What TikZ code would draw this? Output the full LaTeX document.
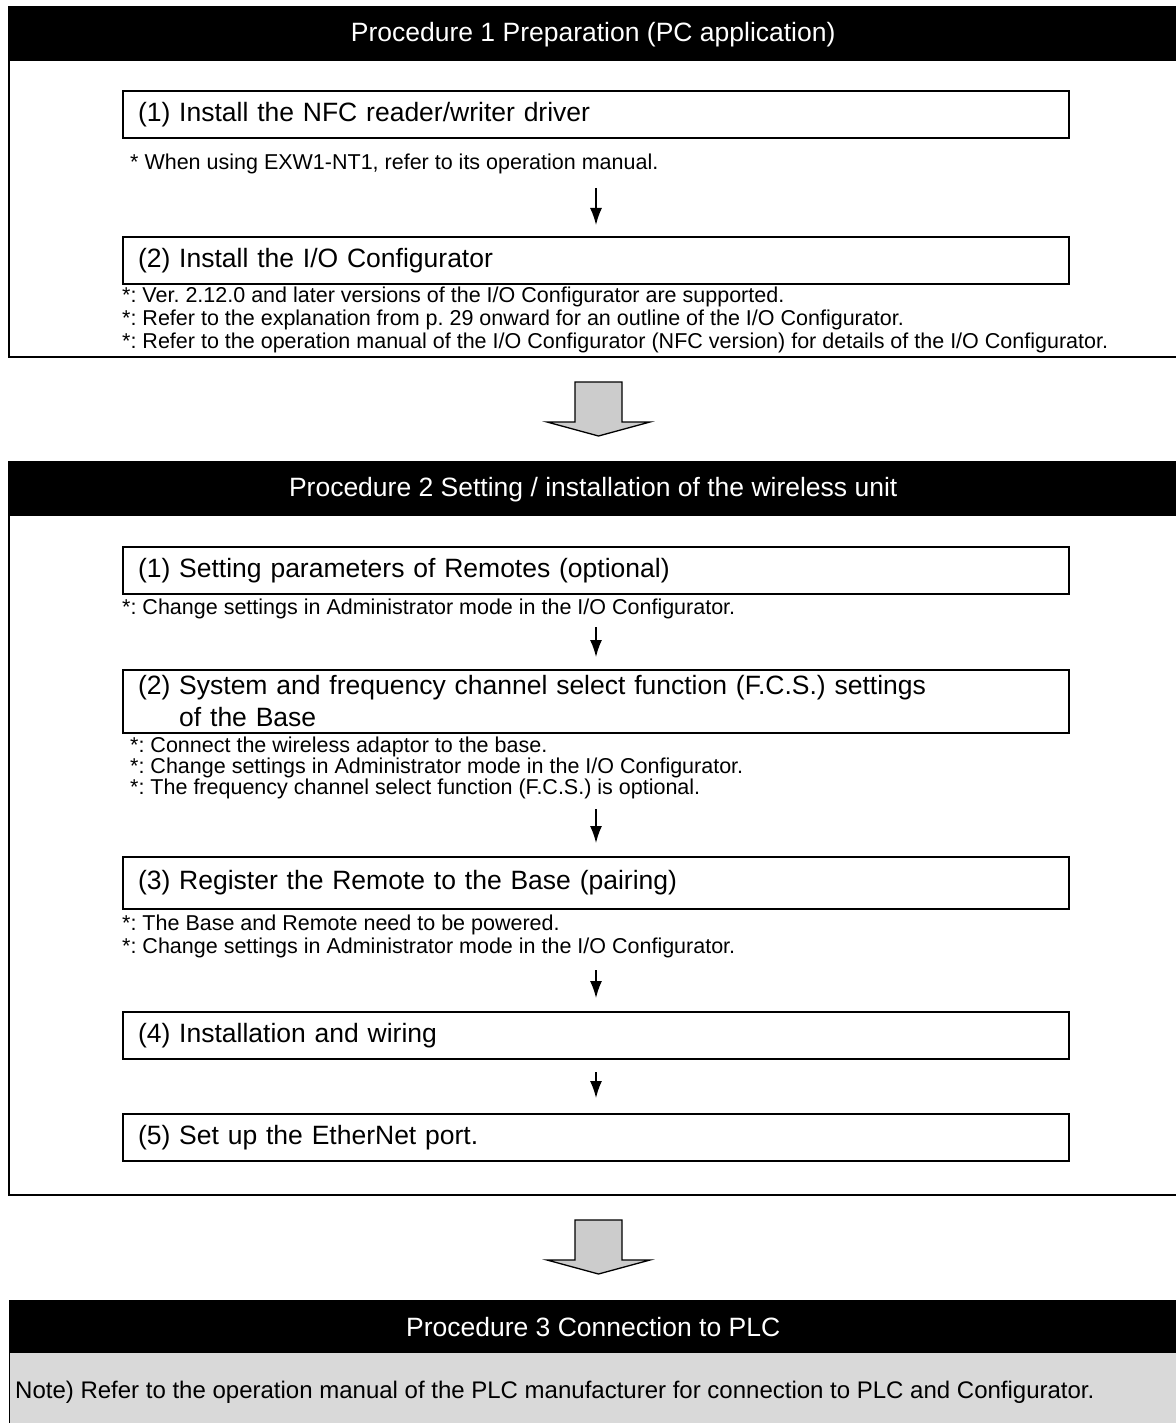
\documentclass[tikz,border=0pt]{standalone}
\usepackage{fontspec}
\setmainfont{Liberation Sans}
\usetikzlibrary{arrows,arrows.meta,positioning}
\tikzset{>={Latex[width=12pt,length=17pt]},
	panelframe/.style={draw=black, line width=2pt},
	panelhead/.style={fill=black, text=white, anchor=north west, inner sep=0pt,
		minimum width=1168pt, minimum height=54pt,
		font=\fontsize{26.5}{30}\selectfont},
	stepbox/.style={draw=black, line width=2pt, anchor=north west,
		text width=916pt, inner xsep=15pt, inner ysep=0pt,
		minimum height=47pt, align=left,
		font=\fontsize{26.5}{32}\selectfont},
	steparrow/.style={->, line width=1.5pt},
	bigarrow/.style={draw=black, line width=1.3pt, fill=black!20}}
\tikzstyle{notetext}=[anchor=base west, inner sep=0pt,
font=\fontsize{21.5}{23}\selectfont]

\begin{document}
\frenchspacing
\begin{tikzpicture}[x=1pt,y=-1pt]
	\useasboundingbox (0,0) rectangle (1175,1423);
	% Procedure 1
	\draw[panelframe] (9,7) rectangle (1177,357);
	\node[panelhead] (head1) at (9,7) {Procedure 1 Preparation (PC application)};
	\node[stepbox] (p1s1) at (122,90) {(1) Install the NFC reader/writer driver};
	\node[notetext] (p1n1) at (130,170) {* When using EXW1-NT1, refer to its operation manual.};
	\node[stepbox] (p1s2) at (122,236) {(2) Install the I/O Configurator};
	\node[notetext] (p1n2) at (122,302) {*: Ver. 2.12.0 and later versions of the I/O Configurator are supported.};
	\node[notetext] (p1n3) at (122,325) {*: Refer to the explanation from p. 29 onward for an outline of the I/O Configurator.};
	\node[notetext] (p1n4) at (122,348) {*: Refer to the operation manual of the I/O Configurator (NFC version) for details of the I/O Configurator.};
	\draw[steparrow, shorten <=49pt, shorten >=11pt] (p1s1) -- (p1s2);
	
	% Procedure 2
	\draw[panelframe] (9,462) rectangle (1177,1195);
	\node[panelhead] (head2) at (9,462) {Procedure 2 Setting / installation of the wireless unit};
	\node[stepbox] (p2s1) at (122,546) {(1) Setting parameters of Remotes (optional)};
	\node[notetext] (p2n1) at (122,614) {*: Change settings in Administrator mode in the I/O Configurator.};
	\node[stepbox, minimum height=63pt] (p2s2) at (122,669)
	{(2) System and frequency channel select function (F.C.S.) settings\\
		\hphantom{(2)~}of the Base};
	\node[notetext] (p2n2) at (130,752) {*: Connect the wireless adaptor to the base.};
	\node[notetext] (p2n3) at (130,773) {*: Change settings in Administrator mode in the I/O Configurator.};
	\node[notetext] (p2n4) at (130,794) {*: The frequency channel select function (F.C.S.) is optional.};
	\node[stepbox, minimum height=52pt] (p2s3) at (122,856) {(3) Register the Remote to the Base (pairing)};
	\node[notetext] (p2n5) at (122,930) {*: The Base and Remote need to be powered.};
	\node[notetext] (p2n6) at (122,953) {*: Change settings in Administrator mode in the I/O Configurator.};
	\node[stepbox] (p2s4) at (122,1011) {(4) Installation and wiring};
	\node[stepbox] (p2s5) at (122,1113) {(5) Set up the EtherNet port.};
	\draw[steparrow, shorten <=32pt, shorten >=12pt] (p2s1) -- (p2s2);
	\draw[steparrow, shorten <=75pt, shorten >=13pt] (p2s2) -- (p2s3);
	\draw[steparrow, shorten <=60pt, shorten >=13pt] (p2s3) -- (p2s4);
	\draw[steparrow, shorten <=12pt, shorten >=15pt] (p2s4) -- (p2s5);
	
	% Procedure 3
	\draw[panelframe, line width=1pt, fill=black!15] (9,1300) rectangle (1177,1426);
	\node[panelhead, minimum height=53pt] (head3) at (9,1300) {Procedure 3 Connection to PLC};
	\node[notetext, font=\fontsize{24}{28}\selectfont] (p3n1) at (15,1398)
	{Note) Refer to the operation manual of the PLC manufacturer for connection to PLC and Configurator.};
	
	% big arrows between the panels
	\coordinate (gap1) at (598.5,357);
	\coordinate (gap2) at (598.5,1195);
	\foreach \g in {gap1,gap2}
	\draw[bigarrow] (\g) ++(-23.5,25) -- ++(47,0) -- ++(0,40) -- ++(28,0)
	-- ++(-51.5,14) -- ++(-51.5,-14) -- ++(28,0) -- cycle;
\end{tikzpicture}
\end{document}
